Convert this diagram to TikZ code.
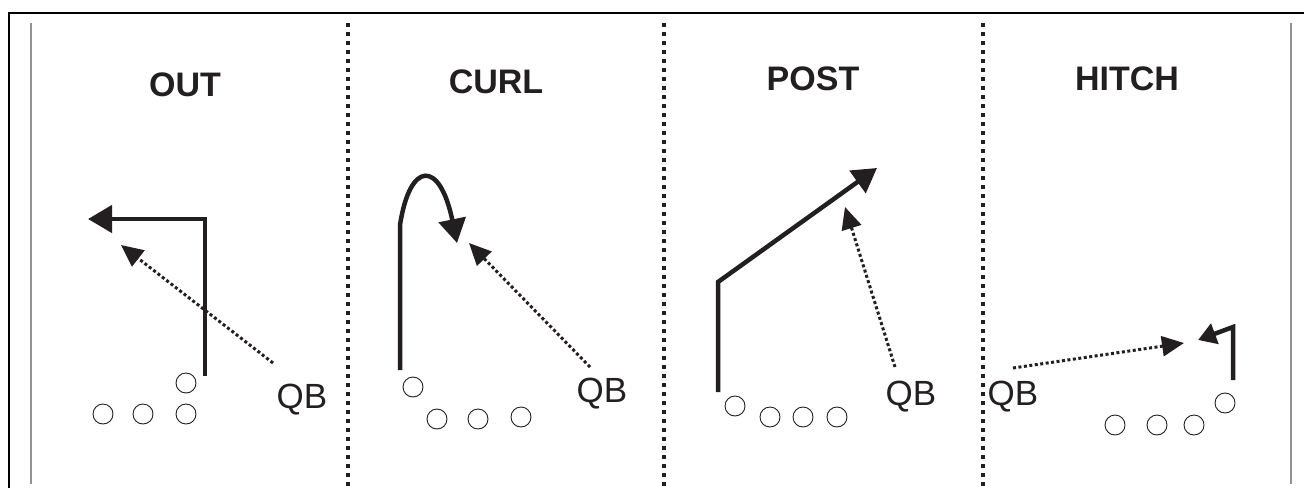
\documentclass[tikz,border=0pt]{standalone}
\usepackage{fontspec}
\setmainfont{Liberation Sans}
\usetikzlibrary{arrows.meta}
\definecolor{ink}{HTML}{231F20}
\begin{document}
\begin{tikzpicture}[x=1pt,y=-1pt,
  route/.style={draw=ink,line width=4.5pt,miter limit=10,-{Triangle[length=24pt,width=27pt]}},
  shortroute/.style={draw=ink,line width=4.5pt,-{Triangle[length=18pt,width=21pt]}},
  pass/.style={draw=ink,line width=3pt,dash pattern=on 3pt off 2.5pt,-{Triangle[length=22pt,width=20pt]}},
  player/.style={circle,draw=ink,line width=0.9pt,minimum size=20pt,inner sep=0pt},
  playname/.style={font=\bfseries\fontsize{34}{40}\selectfont,anchor=base,inner sep=0pt,text=ink},
  qb/.style={font=\fontsize{35}{42}\selectfont,anchor=base west,inner sep=0pt,text=ink},
  sepline/.style={draw=ink,line width=4pt,dash pattern=on 4pt off 5pt},
  guide/.style={draw=gray!85,line width=1.5pt}]
\useasboundingbox (0,0) rectangle (1304,488);
% frame
\draw[line width=2.5pt,black] (1304,13) -- (9,13) -- (9,488);
\draw[guide] (31,23) -- (31,484);
\draw[guide] (1291,23) -- (1291,484);
% separators
\draw[sepline] (348,23) -- (348,486);
\draw[sepline] (664,23) -- (664,486);
\draw[sepline] (983,23) -- (983,486);

% ---------------- OUT
\node[playname] (tout) at (185,96) {OUT};
\node[qb] (qb1) at (276.5,408) {QB};
\node[player] (a1) at (186,383) {};
\node[player] (a2) at (103,414) {};
\node[player] (a3) at (143,414) {};
\node[player] (a4) at (186,414) {};
\coordinate (r1s) at (205,376);
\coordinate (r1c) at (205,219);
\coordinate (r1e) at (88,219);
\draw[route] (r1s) -- (r1c) -- (r1e);
\coordinate (p1s) at (273,363);
\coordinate (p1e) at (121,245);
\draw[pass] (p1s) -- (p1e);

% ---------------- CURL
\node[playname] (tcurl) at (496,93) {CURL};
\node[qb] (qb2) at (576.5,402) {QB};
\node[player] (b1) at (413,387) {};
\node[player] (b2) at (437,419) {};
\node[player] (b3) at (478,419) {};
\node[player] (b4) at (521,417) {};
\coordinate (r2s) at (400,370);
\coordinate (r2c) at (400,225);
\coordinate (r2e) at (457,243);
\draw[route] (r2s) -- (r2c) .. controls (410,160) and (440,160) .. (r2e);
\coordinate (p2s) at (590,367);
\coordinate (p2e) at (469,243);
\draw[pass] (p2s) -- (p2e);

% ---------------- POST
\node[playname] (tpost) at (813,90) {POST};
\node[qb] (qb3) at (885.5,405) {QB};
\node[player] (c1) at (735,406) {};
\node[player] (c2) at (770,417) {};
\node[player] (c3) at (803,417) {};
\node[player] (c4) at (837,417) {};
\coordinate (r3s) at (718,392);
\coordinate (r3c) at (718,282);
\coordinate (r3e) at (877,168);
\draw[route] (r3s) -- (r3c) -- (r3e);
\coordinate (p3s) at (895,367);
\coordinate (p3e) at (845,207);
\draw[pass] (p3s) -- (p3e);

% ---------------- HITCH
\node[playname] (thitch) at (1127,90) {HITCH};
\node[qb] (qb4) at (987.5,405) {QB};
\node[player] (d1) at (1225,403) {};
\node[player] (d2) at (1115,425) {};
\node[player] (d3) at (1157,425) {};
\node[player] (d4) at (1194,425) {};
\coordinate (r4s) at (1233,380);
\coordinate (r4c) at (1233,327);
\coordinate (r4e) at (1198,340);
\draw[shortroute] (r4s) -- (r4c) -- (r4e);
\coordinate (p4s) at (1013,368);
\coordinate (p4e) at (1184,343);
\draw[pass] (p4s) -- (p4e);
\end{tikzpicture}
\end{document}
